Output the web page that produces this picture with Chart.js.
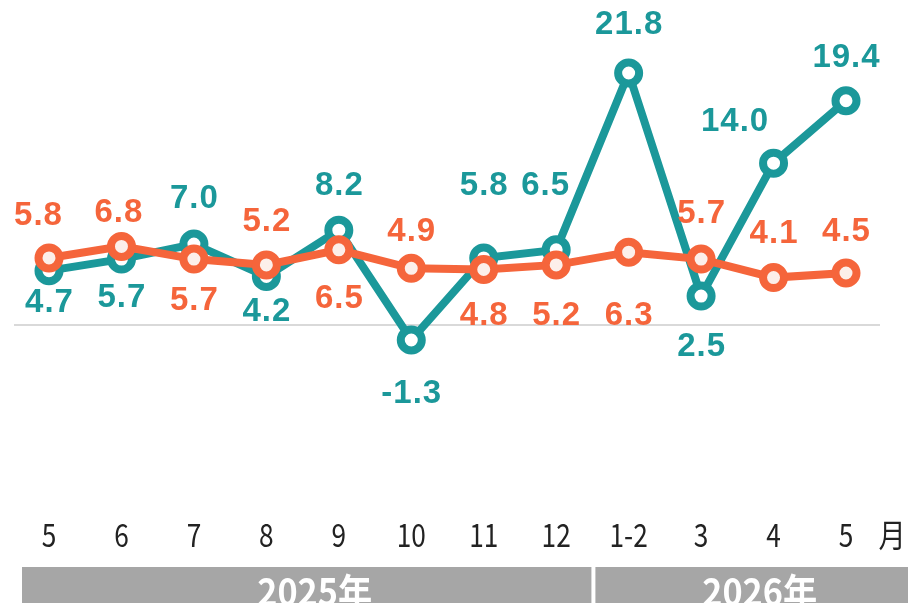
<!DOCTYPE html>
<html>
<head>
<meta charset="utf-8">
<script src="https://cdn.jsdelivr.net/npm/chart.js@4.4.0/dist/chart.umd.min.js"></script>
<style>
  html, body { margin: 0; padding: 0; background: #fff; }
  #wrap { width: 908px; height: 603px; position: relative; }
</style>
</head>
<body>
<div id="wrap"><canvas id="chart"></canvas></div>
<script>
// months along the bottom
const categories = ["5", "6", "7", "8", "9", "10", "11", "12", "1-2", "3", "4", "5"];

// the two series
const tealValues   = [4.7, 5.7, 7.0, 4.2, 8.2, -1.3, 5.8, 6.5, 21.8, 2.5, 14.0, 19.4];
const orangeValues = [5.8, 6.8, 5.7, 5.2, 6.5, 4.9, 4.8, 5.2, 6.3, 5.7, 4.1, 4.5];

// year groups: label + first/last category index
const yearLabels = ["2025年", "2026年"];
const yearStart  = [0, 8];
const yearEnd    = [7, 11];

const TEAL   = "#1b989a";
const ORANGE = "#f5653b";

// where each value label sits relative to its point (px) - hand placed like the original
const tealLabelDy   = [32, 39, -45, 35, -44, 54, -72, -64, -48, 51, -41, -43];
const tealLabelDx   = [0, 0, 0, 0, 0, 0, 0, -11, 0, 0, -39, 0];
const orangeLabelDy = [-42, -33, 42, -43, 49, -36, 46, 51, 64, -45, -44, -41];
const orangeLabelDx = [-11, -3, 0, 0, 0, 0, 0, 0, 0, 0, 0, 0];

const labelFont = "bold 33px 'Liberation Sans', Arial, sans-serif";

const valueLabels = {
  id: "valueLabels",
  afterDatasetsDraw(chart) {
    const { ctx } = chart;
    ctx.save();
    ctx.font = labelFont;
    ctx.textAlign = "center";
    ctx.textBaseline = "middle";
    if ("letterSpacing" in ctx) ctx.letterSpacing = "1px";

    chart.data.datasets.forEach((ds, di) => {
      const meta = chart.getDatasetMeta(di);
      meta.data.forEach((pt, i) => {
        const v = ds.data[i];
        ctx.fillStyle = ds.borderColor;
        ctx.fillText(v.toFixed(1), pt.x + ds.labelDx[i] + 0.5, pt.y + ds.labelDy[i]);
      });
    });
    ctx.restore();
  }
};

// zero line, month ticks, year bands
const decorations = {
  id: "decorations",
  beforeDatasetsDraw(chart) {
    const { ctx, scales } = chart;
    const y0 = scales.y.getPixelForValue(0);
    ctx.save();
    ctx.strokeStyle = "#d9d9d9";
    ctx.lineWidth = 2;
    ctx.beginPath();
    ctx.moveTo(14, y0);
    ctx.lineTo(880, y0);
    ctx.stroke();
    ctx.restore();
  },
  afterDraw(chart) {
    const { ctx, scales } = chart;
    const x = scales.x;

    ctx.save();
    ctx.fillStyle = "#222";
    ctx.textAlign = "center";
    ctx.textBaseline = "middle";
    ctx.font = "400 32px 'Noto Sans CJK JP', 'Noto Sans', sans-serif";
    categories.forEach((c, i) => {
      const px = x.getPixelForValue(i);
      ctx.save();
      ctx.translate(px, 535);
      ctx.scale(0.82, 1);
      ctx.fillText(c, 0, 0);
      ctx.restore();
    });
    ctx.save();
    ctx.translate(892, 535);
    ctx.scale(0.85, 1);
    ctx.fillText("月", 0, 0);
    ctx.restore();

    // year bands
    const step = x.getPixelForValue(1) - x.getPixelForValue(0);
    yearLabels.forEach((lab, k) => {
      const left  = yearStart[k] === 0 ? x.getPixelForValue(0) - 27
                                        : x.getPixelForValue(yearStart[k]) - step / 2 + 3;
      const right = yearEnd[k] === categories.length - 1 ? chart.width
                                        : x.getPixelForValue(yearEnd[k]) + step / 2 - 1;
      ctx.fillStyle = "#a6a6a6";
      ctx.fillRect(left, 567, right - left, chart.height - 567);

      ctx.fillStyle = "#fff";
      ctx.font = "bold 38px 'Noto Sans CJK JP', 'Noto Sans', sans-serif";
      ctx.save();
      ctx.translate((left + right) / 2 + 8, 592);
      ctx.scale(0.9, 1);
      ctx.fillText(lab, 0, 0);
      ctx.restore();
    });
    ctx.restore();
  }
};

function series(values, color, fill, order, labelDx, labelDy) {
  return {
    data: values,
    labelDx,
    labelDy,
    borderColor: color,
    backgroundColor: color,
    borderWidth: 8,
    pointRadius: 10.5,
    pointBorderWidth: 8,
    pointBorderColor: color,
    pointBackgroundColor: fill,
    tension: 0,
    clip: false,
    order
  };
}

new Chart(document.getElementById("chart"), {
  type: "line",
  data: {
    labels: categories,
    datasets: [
      series(orangeValues, ORANGE, "#fcefea", 0, orangeLabelDx, orangeLabelDy),
      series(tealValues, TEAL, "#ffffff", 1, tealLabelDx, tealLabelDy)
    ]
  },
  plugins: [decorations, valueLabels],
  options: {
    responsive: true,
    maintainAspectRatio: false,
    animation: false,
    events: [],
    layout: { autoPadding: false, padding: { left: 49, right: 62, top: 10, bottom: 103 } },
    scales: {
      x: { display: false, offset: false },
      y: { display: false, min: -15.14, max: 27.25 }
    },
    plugins: {
      legend: { display: false },
      tooltip: { enabled: false }
    }
  }
});
</script>
</body>
</html>
